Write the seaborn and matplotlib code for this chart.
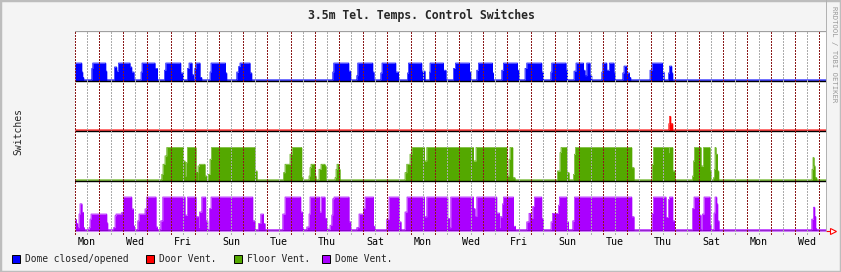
import numpy as np
import pandas as pd
import matplotlib
matplotlib.use("Agg")
import matplotlib.pyplot as plt
import seaborn as sns
from matplotlib.patches import Rectangle
from matplotlib.lines import Line2D

# ---------------- data (time in hours from left edge; levels = fraction of full band) -------------
day_labels = ["Mon", "Wed", "Fri", "Sun", "Tue", "Thu", "Sat", "Mon",
              "Wed", "Fri", "Sun", "Tue", "Thu", "Sat", "Mon", "Wed"]
series_names = ["Dome closed/opened", "Door Vent.", "Floor Vent.", "Dome Vent."]
series_colors = ["#0000FF", "#FF0000", "#54A800", "#AA00FF"]

dome_closed = [
    (0, 6.7, 1), (6.7, 7.7, .5), (7.7, 8.7, .2),
    (16.7, 17.7, .7), (17.7, 30.7, 1), (30.7, 31.7, .55),
    (39.3, 41.7, .78), (41.7, 43.3, .55), (43.3, 55, 1), (55, 56.7, .78), (56.7, 59, .5),
    (66, 67, .5), (67, 80, 1), (80, 82.3, .7),
    (89.3, 90.7, .6), (90.7, 105.7, 1), (105.7, 108.3, .45),
    (112.3, 114, .7), (114, 117, 1), (117, 118.3, .35),
    (119.7, 120.7, .7), (120.7, 125, 1), (125, 126.7, .2),
    (135, 136, .5), (136, 150.3, 1), (150.3, 151.7, .45),
    (161.7, 163.3, .5), (163.3, 165, .8), (165, 175, 1), (175, 176.7, .45),
    (257.7, 258.7, .5), (258.7, 273.7, 1), (273.7, 275.7, .55),
    (281.7, 282.7, .3), (282.7, 297.7, 1), (297.7, 299, .5),
    (305.7, 307, .45), (307, 320.7, 1), (320.7, 323.3, .5),
    (332.3, 333.3, .45), (333.3, 346.7, 1), (346.7, 350, .55),
    (354.3, 355, .5), (355, 368.3, 1), (368.3, 371, .6),
    (378.3, 380.3, .7), (380.3, 394.3, 1), (394.3, 395.7, .5),
    (401.7, 403.3, .6), (403.3, 417.3, 1), (417.3, 418.3, .45),
    (426.7, 428.3, .6), (428.3, 442.3, 1), (442.3, 444, .6),
    (450, 451.7, .7), (451.7, 466.7, 1), (466.7, 468.3, .5),
    (475.7, 476.7, .5), (476.7, 491, 1), (491, 492.3, .6),
    (499, 501, .55), (501, 508.3, 1), (508.3, 510, .6), (510, 511.7, .3),
    (511.7, 515, 1), (515, 516.7, .3),
    (526.7, 527.7, .5), (527.7, 531.7, 1), (531.7, 534.3, .6), (534.3, 539, 1), (539, 540, .45),
    (547.7, 549, .45), (549, 551.7, .83), (551.7, 554.3, .45), (554.3, 555.7, .2),
    (575, 577, .6), (577, 587.3, 1), (587.3, 589, .5),
    (593.3, 594.3, .45), (594.3, 596.7, .83), (596.7, 597.7, .45),
]

door_vent = [(593.7, 594.3, .5), (594.3, 595.7, 1), (595.7, 597.7, .5)]

floor_vent = [
    (86.7, 88, .2), (88, 90, .5), (90, 91.7, .75), (91.7, 108.3, 1), (108.3, 110, .6), (110, 111, .15),
    (111, 112.3, .55), (112.3, 121, 1), (121, 122.7, .25),
    (123, 124.5, .45), (124.5, 130, .5), (130, 131.7, .15),
    (133.3, 135, .2), (135, 136.3, .65), (136.3, 180, 1), (180, 182, .3),
    (208.3, 210, .25), (210, 215, .5), (215, 217, .8), (217, 226.7, 1), (226.7, 228, .1),
    (234, 235, .15), (235, 236, .4), (236, 240, .5), (240, 241, .15),
    (244, 246, .35), (246, 250, .5), (250, 251, .45),
    (260, 261, .1), (261, 262, .35), (262, 264, .5), (264, 265, .35),
    (330, 331.7, .25), (331.7, 335, .5), (335, 336.7, .8), (336.7, 349.3, 1), (349.3, 351.7, .6),
    (351.7, 398.3, 1), (398.3, 401, .6), (401, 431.7, 1),
    (431.7, 434, .15), (434, 435, .65), (435, 437.7, 1), (437.7, 440, .1),
    (482.3, 485, .3), (485, 486, .85), (486, 491.7, 1), (491.7, 494, .25),
    (498.3, 499.3, .2), (499.3, 500.3, .8), (500.3, 556.7, 1), (556.7, 559, .4),
    (577, 578.3, .5), (578.3, 593.3, 1), (593.3, 594.3, .85), (594.3, 597.7, 1), (597.7, 600, .3),
    (617.3, 618.3, .15), (618.3, 619.3, .6), (619.3, 626, 1), (626, 628.3, .45),
    (628.3, 635, 1), (635, 636, .3),
    (638.3, 639.3, .1), (639.3, 640, .35), (640, 641, 1), (641, 642.3, .8), (642.3, 643.7, .3),
    (737, 738, .35), (738, 739, .7), (739, 740, .45), (740, 741.7, .1),
]

dome_vent = [
    (0, 1.3, .34), (1.3, 2.7, .22), (2.7, 4, .1), (4, 5, .5), (5, 7, .8), (7, 8.3, .55), (8.3, 9.3, .1),
    (14, 15, .1), (15, 16, .35), (16, 31.7, .5), (31.7, 32.7, .24),
    (38.3, 40, .1), (40, 41, .45), (41, 46.7, .5), (46.7, 48.3, .55), (48.3, 56.7, 1),
    (56.7, 58.3, .65), (58.3, 59.3, .15),
    (62.7, 64, .3), (64, 70, .5), (70, 71.7, .65), (71.7, 81, 1), (81, 82.3, .12),
    (85.7, 87.7, .3), (87.7, 110, 1), (110, 112.3, .47), (112.3, 121, 1), (121, 123.3, .42),
    (123.3, 124.3, .12), (124.3, 126.7, .56), (126.7, 130.7, 1), (130.7, 132.7, .3),
    (134.3, 136, .66), (136, 177.7, 1), (177.7, 180, .3),
    (183.3, 185.7, .22), (185.7, 188.3, .5), (188.3, 190, .22),
    (207.7, 210, .5), (210, 225.7, 1), (225.7, 227.3, .56), (227.3, 228.3, .1),
    (231.7, 234, .12), (234, 235, .5), (235, 244.3, 1), (244.3, 246, .56), (246, 250, 1),
    (250, 251.7, .37), (251.7, 252.7, .1),
    (255, 256.7, .17), (256.7, 257.7, .47), (257.7, 259, .95), (259, 274, 1), (274, 275.7, .27),
    (281.7, 284, .1), (284, 288.3, .5), (288.3, 290, .66), (290, 298.3, 1), (298.3, 300, .14),
    (311.7, 314, .35), (314, 324.3, 1), (324.3, 326, .27),
    (330, 332, .56), (332, 349.3, 1), (349.3, 351.7, .42), (351.7, 372.7, 1), (372.7, 374.3, .37),
    (374.3, 375.7, .1), (375.7, 398.3, 1),
    (398.3, 400, .66), (400, 401.7, .43), (401.7, 421.7, 1), (421.7, 424.3, .53), (424.3, 425, .1),
    (425, 427.3, .42), (427.3, 428.3, .8), (428.3, 438.3, 1), (438.3, 440.3, .14),
    (451.7, 454, .27), (454, 456, .52), (456, 457.7, .37), (457.7, 459.3, .72), (459.3, 466.7, 1),
    (466.7, 468.3, .37),
    (476, 477.3, .27), (477.3, 483.3, .52), (483.3, 484.3, .76), (484.3, 491.7, 1), (491.7, 493.3, .27),
    (497.7, 499.3, .3), (499.3, 556.7, 1), (556.7, 559, .42),
    (577, 578.3, .52), (578.3, 591, 1), (591, 593.3, .4), (593.3, 594.3, .93), (594.3, 597.7, 1),
    (597.7, 599.3, .3),
    (617.3, 619, .66), (619, 624.3, 1), (624.3, 626, .47), (627.3, 629, .5), (629, 635, 1), (635, 636, .17),
    (639, 640, .53), (640, 641.7, 1), (641.7, 642.7, .8), (642.7, 644, .3),
    (736.7, 738.3, .35), (738.3, 739.7, .7), (739.7, 740.7, .43), (740.7, 741.7, .07),
]

# ---------------- style / layout -------------
W, H = 841, 272
sns.set_theme(style="white")
plt.rcParams["font.family"] = ["DejaVu Sans Mono", "DejaVu Sans"]

T_END = 751.0
band_offset = [150, 100, 50, 0]        # vertical stacking of the four bands
band_amp = [18, 14.7, 33.5, 34]        # full-scale height of each band
band_base = [1.2, 1.2, 1.2, 1.3]       # idle level
all_segs = [dome_closed, door_vent, floor_vent, dome_vent]

t = np.arange(0, T_END + 0.25, 0.25)
frames = []
for name, segs, off, amp, base in zip(series_names, all_segs, band_offset, band_amp, band_base):
    v = np.full(t.shape, base)
    for s, e, lv in segs:
        v[(t >= s) & (t < e)] = lv * amp
    frames.append(pd.DataFrame({"t": t, "y": off + v, "lo": off, "series": name}))
df = pd.concat(frames, ignore_index=True)

fig = plt.figure(figsize=(W / 100, H / 100), dpi=100)
fig.patch.set_facecolor("#F4F4F4")
ax = fig.add_axes([75 / W, 41 / H, 751 / W, 200 / H])
ax.set_facecolor("white")
ax.set_xlim(0, T_END)
ax.set_ylim(0, 200)
for sp in ax.spines.values():
    sp.set_visible(False)

for name, col in zip(series_names, series_colors):
    d = df[df["series"] == name]
    ax.fill_between(d["t"], d["lo"], d["y"], step="post", color=col, lw=0,
                    antialiased=False, zorder=1)
    sns.lineplot(data=d, x="t", y="y", ax=ax, color=col, lw=0.5, drawstyle="steps-post",
                 estimator=None, sort=False, legend=False, zorder=1.5)

# black baselines of each band
for off in band_offset:
    ax.axhline(off - 0.4, color="black", lw=1.0, zorder=2)
ax.axhline(200, color="#A0A0A0", lw=0.9, zorder=2)

# grid (drawn over the data, like rrdtool)
for h in np.arange(0, T_END, 12):
    major = (h % 24 == 0)
    ax.plot([h + 0.3, h + 0.3], [-2.5, 200], color="#8B1A1A" if major else "#ABABAB", lw=0.72,
            ls=(0, (1.2, 1.6)), zorder=3, clip_on=False, antialiased=False)

ax.set_xticks(np.arange(12, 12 + 48 * len(day_labels), 48))
ax.set_xticklabels(day_labels, fontsize=7.2, color="black")
ax.tick_params(axis="x", length=0, pad=4)
ax.set_yticks([])
ax.set_xlabel("")
ax.set_ylabel("")

# x-axis arrow
ax.plot([T_END, T_END + 9], [0, 0], color="red", lw=0.8, clip_on=False, zorder=4)
ax.plot([T_END + 7], [0], marker=">", ms=5, mfc="white", mec="red", mew=0.8,
        clip_on=False, zorder=4)

# texts
fig.text(421 / W, 1 - 15 / H, "3.5m Tel. Temps. Control Switches", ha="center", va="center",
         fontsize=8.3, fontweight="bold")
fig.text(18 / W, 1 - 131 / H, "Switches", rotation=90, ha="center", va="center", fontsize=7)
fig.text(834 / W, 1 - 6 / H, "RRDTOOL / TOBI OETIKER", rotation=270, ha="center", va="top",
         fontsize=5.2, color="#999999")

leg_sq_x = [12, 146, 234, 322]
for x0, col, name in zip(leg_sq_x, series_colors, series_names):
    fig.patches.append(Rectangle((x0 / W, 1 - 262.5 / H), 8 / W, 8 / H, transform=fig.transFigure,
                                 facecolor=col, edgecolor="black", lw=0.7))
    fig.text((x0 + 13) / W, 1 - 258.5 / H, name, ha="left", va="center", fontsize=6.9)

# thin vertical separator at the right of the plot and outer frame
fig.lines.append(Line2D([825.5 / W, 825.5 / W], [1 - 231 / H, 1], transform=fig.transFigure,
                        color="#B0B0B0", lw=0.7))
fig.patches.append(Rectangle((0, 0), 1, 1, transform=fig.transFigure, fill=False,
                             edgecolor="#BDBDBD", lw=2.5))

fig.savefig("out.png", dpi=100, facecolor=fig.get_facecolor())
